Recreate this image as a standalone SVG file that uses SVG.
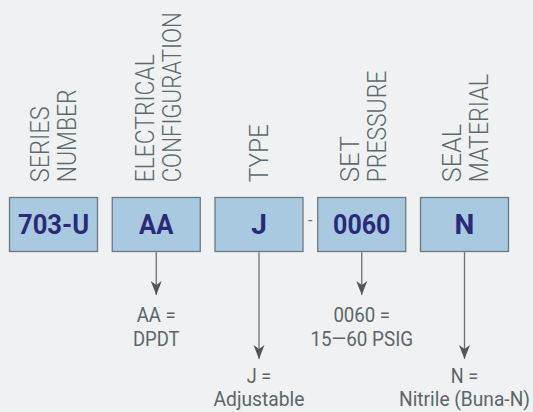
<svg xmlns="http://www.w3.org/2000/svg" width="533" height="412" viewBox="0 0 533 412">
<defs>
<style>
.bg{fill:#eff1f3}
.box{fill:#a8c9df;stroke:#6b7a80;stroke-width:1.3}
.code{font-family:Roboto,"Liberation Sans",sans-serif;font-weight:700;font-size:28px;fill:#2b2a78;text-anchor:middle}
.head{font-family:Roboto,"Liberation Sans",sans-serif;font-weight:300;font-size:25px;fill:#5c6a6c}
.desc{font-family:Roboto,"Liberation Sans",sans-serif;font-weight:400;font-size:19.5px;fill:#5c6668;text-anchor:middle}
.conn{stroke:#6a7274;stroke-width:1.3;fill:none}
</style>
<marker id="ah" markerUnits="userSpaceOnUse" markerWidth="16" markerHeight="12" refX="14" refY="6" orient="auto">
<path d="M0,0.5 L14,6 L0,11.5 L4,6 z" fill="#4f5759"/>
</marker>
</defs>
<rect class="bg" x="0" y="0" width="533" height="412"/>

<g id="headings">
<text class="head" transform="translate(49.3,182.3) rotate(-90)" textLength="76" lengthAdjust="spacingAndGlyphs">SERIES</text>
<text class="head" transform="translate(75.7,182.3) rotate(-90)" textLength="93" lengthAdjust="spacingAndGlyphs">NUMBER</text>
<text class="head" transform="translate(154,182.3) rotate(-90)" textLength="128" lengthAdjust="spacingAndGlyphs">ELECTRICAL</text>
<text class="head" transform="translate(181.3,182.3) rotate(-90)" textLength="170" lengthAdjust="spacingAndGlyphs">CONFIGURATION</text>
<text class="head" transform="translate(268.3,182.3) rotate(-90)" textLength="58" lengthAdjust="spacingAndGlyphs">TYPE</text>
<text class="head" transform="translate(359,182.3) rotate(-90)" textLength="46" lengthAdjust="spacingAndGlyphs">SET</text>
<text class="head" transform="translate(385.7,182.3) rotate(-90)" textLength="111.6" lengthAdjust="spacingAndGlyphs">PRESSURE</text>
<text class="head" transform="translate(461,182.3) rotate(-90)" textLength="58.3" lengthAdjust="spacingAndGlyphs">SEAL</text>
<text class="head" transform="translate(488.3,182.3) rotate(-90)" textLength="108.3" lengthAdjust="spacingAndGlyphs">MATERIAL</text>
</g>

<g id="node-series">
<rect class="box" x="9.5" y="197.5" width="88" height="54"/>
<text class="code" x="53.5" y="234.3" textLength="71" lengthAdjust="spacingAndGlyphs">703-U</text>
</g>
<g id="node-electrical">
<rect class="box" x="112.25" y="197.5" width="88" height="54"/>
<text class="code" x="156.25" y="234.3" textLength="34.3" lengthAdjust="spacingAndGlyphs">AA</text>
</g>
<g id="node-type">
<rect class="box" x="215" y="197.5" width="88" height="54"/>
<text class="code" x="259" y="234.3">J</text>
</g>
<text id="separator" x="310.2" y="226" font-family="Roboto, 'Liberation Sans', sans-serif" font-size="16" fill="#6a7274" text-anchor="middle">-</text>
<g id="node-pressure">
<rect class="box" x="317.75" y="197.5" width="88" height="54"/>
<text class="code" x="361.75" y="234.3" textLength="57.3" lengthAdjust="spacingAndGlyphs">0060</text>
</g>
<g id="node-seal">
<rect class="box" x="420.5" y="197.5" width="88" height="54"/>
<text class="code" x="464.5" y="234.3">N</text>
</g>

<g id="connectors">
<line class="conn" x1="156.25" y1="252.2" x2="156.25" y2="295" marker-end="url(#ah)"/>
<line class="conn" x1="259" y1="252.2" x2="259" y2="359" marker-end="url(#ah)"/>
<line class="conn" x1="361.75" y1="252.2" x2="361.75" y2="295" marker-end="url(#ah)"/>
<line class="conn" x1="464.5" y1="252.2" x2="464.5" y2="359" marker-end="url(#ah)"/>
</g>

<g id="desc-electrical">
<text class="desc" x="156.25" y="321.7" textLength="39" lengthAdjust="spacingAndGlyphs">AA =</text>
<text class="desc" x="156.25" y="346" textLength="46.7" lengthAdjust="spacingAndGlyphs">DPDT</text>
</g>
<g id="desc-type">
<text class="desc" x="259" y="383" textLength="24.3" lengthAdjust="spacingAndGlyphs">J =</text>
<text class="desc" x="259" y="405.5" textLength="91" lengthAdjust="spacingAndGlyphs">Adjustable</text>
</g>
<g id="desc-pressure">
<text class="desc" x="361.75" y="321.7" textLength="56.7" lengthAdjust="spacingAndGlyphs">0060 =</text>
<text class="desc" x="361.75" y="346" textLength="102.7" lengthAdjust="spacingAndGlyphs">15—60 PSIG</text>
</g>
<g id="desc-seal">
<text class="desc" x="464.5" y="383" textLength="27.3" lengthAdjust="spacingAndGlyphs">N =</text>
<text class="desc" x="464.5" y="405.5" textLength="131" lengthAdjust="spacingAndGlyphs">Nitrile (Buna-N)</text>
</g>
</svg>
